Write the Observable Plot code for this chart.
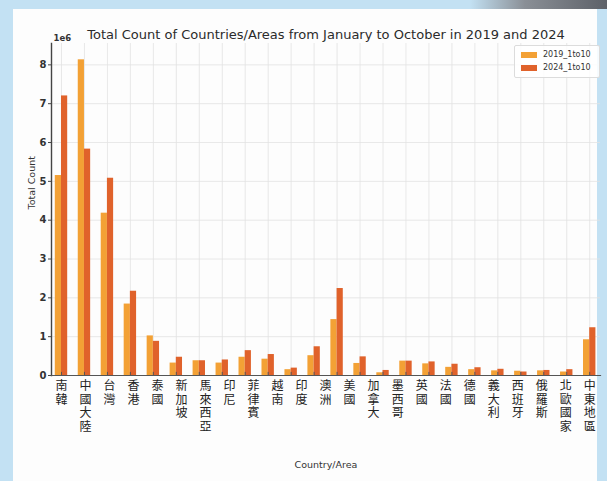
<!DOCTYPE html>
<html>
<head>
<meta charset="utf-8">
<script src="https://cdn.jsdelivr.net/npm/d3@7"></script>
<script src="https://cdn.jsdelivr.net/npm/@observablehq/plot@0.6"></script>
<style>
  html, body { margin: 0; padding: 0; }
  body { width: 607px; height: 481px; background: #c3e1f3; position: relative; overflow: hidden; }
  #bezel { position: absolute; left: 470px; top: 0; width: 137px; height: 9px; background: linear-gradient(90deg, #c3e1f3, #8a8f96 40%, #5d6168); }
  #panel { position: absolute; left: 13px; top: 9px; width: 584px; height: 472px; background: #fdfdfd; }
  #chart { position: absolute; left: 0; top: 0; }
  #legend { position: absolute; left: 514px; top: 45px; width: 84px; height: 31px; border: 1px solid #dcdcdc; border-radius: 2px; background: rgba(255,255,255,0.85); font-family: "DejaVu Sans", sans-serif; font-size: 8px; color: #333; }
  .item { position: absolute; left: 6px; display: flex; align-items: center; }
  .sw { width: 16px; height: 6px; margin-right: 6px; }
</style>
</head>
<body>
<div id="bezel"></div>
<div id="panel"></div>
<div id="chart"></div>
<div id="legend"></div>
<script>
// ---- data (counts) ----
const labels = ["南韓","中國大陸","台灣","香港","泰國","新加坡","馬來西亞","印尼","菲律賓","越南","印度","澳洲","美國","加拿大","墨西哥","英國","法國","德國","義大利","西班牙","俄羅斯","北歐國家","中東地區"];
const series = ["2019_1to10", "2024_1to10"];
const values2019 = [5150000, 8130000, 4180000, 1840000, 1020000, 320000, 380000, 320000, 470000, 420000, 150000, 510000, 1440000, 310000, 70000, 370000, 300000, 210000, 150000, 120000, 110000, 120000, 90000, 920000];
const values2024 = [7200000, 5830000, 5080000, 2170000, 880000, 470000, 380000, 400000, 640000, 540000, 190000, 740000, 2240000, 480000, 130000, 370000, 350000, 290000, 200000, 160000, 90000, 130000, 150000, 1230000];
const yTicks = [0, 1000000, 2000000, 3000000, 4000000, 5000000, 6000000, 7000000, 8000000];
const colors = ["#f3a135", "#e0622b"];

const title = "Total Count of Countries/Areas from January to October in 2019 and 2024";

// ---- derived tables ----
const n = values2019.length;
const groups = d3.range(n);
const barW = 0.27;
const rows = [];
values2019.forEach((v, i) => rows.push({i, s: series[0], v, x1: i - barW, x2: i}));
values2024.forEach((v, i) => rows.push({i, s: series[1], v, x1: i, x2: i + barW}));
// one row per character of each category name (names are written top to bottom)
const charRows = [];
labels.forEach((t, k) => Array.from(t).forEach((ch, j) => charRows.push({ch, j, x: k * (n - 1) / (labels.length - 1)})));
const maxChars = d3.max(labels, t => t.length);

const font = "DejaVu Sans, sans-serif";
const cjk = "'Noto Sans CJK TC', 'Noto Sans CJK SC', sans-serif";
const lineStep = 13.5;

const labelMarks = d3.range(maxChars).map(j =>
  Plot.text(charRows.filter(d => d.j === j), {x: "x", text: "ch", frameAnchor: "bottom", dy: 4 + j * lineStep, textAnchor: "start", fontSize: 12, fontFamily: cjk, fill: "#222", ariaDescription: "category-labels"})
);

const chart = Plot.plot({
  width: 607,
  height: 481,
  marginLeft: 51,
  marginRight: 7,
  marginTop: 43,
  marginBottom: 106,
  style: {background: "transparent", fontFamily: font, color: "#333"},
  x: {domain: [-0.435, n - 1 + 0.47], axis: null},
  y: {domain: [0, 8550000], axis: null},
  color: {domain: series, range: colors},
  marks: [
    Plot.ruleX(groups, {x: d => d, stroke: "#e2e2e2", strokeWidth: 0.8}),
    Plot.ruleY(yTicks.slice(1), {y: d => d, stroke: "#e2e2e2", strokeWidth: 0.8}),
    Plot.rectY(rows, {x1: "x1", x2: "x2", y: "v", fill: "s"}),
    Plot.ruleX(groups, {x: d => d, y1: 0, y2: 80000, stroke: "#555", strokeWidth: 1}),
    Plot.frame({anchor: "left", stroke: "#444", strokeWidth: 1.4}),
    Plot.frame({anchor: "bottom", stroke: "#555", strokeWidth: 1.2}),
    Plot.axisY(yTicks, {tickSize: 3, tickPadding: 2, tickFormat: d => d / 1e6, fontSize: 10, fontWeight: "bold", fill: "#333", stroke: "#444", label: null}),
    Plot.text(["1e6"], {frameAnchor: "top-left", dx: 2, dy: -3, lineAnchor: "bottom", textAnchor: "start", fontSize: 8.5, fontWeight: "bold", fill: "#333"}),
    Plot.text([title], {frameAnchor: "top", dy: -5, lineAnchor: "bottom", fontSize: 13, fill: "#2b2b2b"}),
    Plot.text(["Total Count"], {frameAnchor: "left", dx: -20, rotate: -90, fontSize: 9.5, fill: "#333"}),
    Plot.text(["Country/Area"], {frameAnchor: "bottom", dy: 92, fontSize: 9.5, fill: "#333"}),
    ...labelMarks
  ]
});
document.getElementById("chart").appendChild(chart);
// each character is set upright in vertical writing mode so it occupies one em of height
chart.querySelectorAll('g[aria-description="category-labels"] text').forEach(t => {
  t.setAttribute("writing-mode", "vertical-rl");
  t.style.writingMode = "vertical-rl";
  t.style.textOrientation = "upright";
  t.removeAttribute("dy");
});

// legend
const leg = document.getElementById("legend");
series.forEach((s, k) => {
  const it = document.createElement("div");
  it.className = "item";
  it.style.top = (4 + k * 13) + "px";
  it.innerHTML = `<div class="sw" style="background:${colors[k]}"></div><span>${s}</span>`;
  leg.appendChild(it);
});
</script>
</body>
</html>
